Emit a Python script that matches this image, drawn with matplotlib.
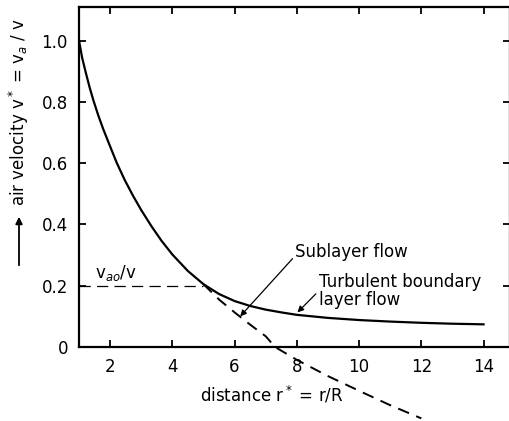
import matplotlib
matplotlib.use('Agg')
import matplotlib.pyplot as plt

# values
TURB_X = [1.0, 1.1, 1.22, 1.34, 1.46, 1.62, 1.78, 2.0, 2.21, 2.47, 2.74, 3.0, 3.33, 3.65, 4.0, 4.5, 5.0, 5.5, 6.0, 6.5, 7.0, 7.5, 8.0, 9.0, 10.0, 11.0, 12.0, 13.0, 14.0]
TURB_Y = [1.0, 0.945, 0.895, 0.848, 0.806, 0.756, 0.711, 0.655, 0.602, 0.545, 0.493, 0.447, 0.394, 0.347, 0.302, 0.248, 0.205, 0.173, 0.150, 0.134, 0.122, 0.113, 0.105, 0.095, 0.088, 0.083, 0.079, 0.076, 0.074]
SUB_X = [5.0, 5.5, 6.0, 6.5, 7.0, 7.3, 8.0, 9.0, 10.0, 11.0, 12.0]
SUB_Y = [0.205, 0.155, 0.113, 0.073, 0.035, 0.0, -0.042, -0.095, -0.143, -0.19, -0.233]
VAO_X = [1.0, 5.0]
VAO_Y = [0.2, 0.2]
X_TICKS = [2, 4, 6, 8, 10, 12, 14]
Y_TICKS = [0, 0.2, 0.4, 0.6, 0.8, 1.0]
Y_TICKLABELS = ['0', '0.2', '0.4', '0.6', '0.8', '1.0']

FS = 12


def main():
    fig = plt.figure(figsize=(5.10, 4.21), dpi=100)
    ax = fig.add_axes([79 / 510, 74 / 421, 431 / 510, 340 / 421])

    ax.plot(TURB_X, TURB_Y, color='black', lw=1.6)
    ax.plot(SUB_X, SUB_Y, color='black', lw=1.4, dashes=(6, 4), clip_on=False)
    ax.plot(VAO_X, VAO_Y, color='black', lw=0.9, dashes=(9, 5))

    ax.set_xlim(1, 14.85)
    ax.set_ylim(0, 1.11)
    ax.set_xticks(X_TICKS)
    ax.set_yticks(Y_TICKS)
    ax.set_yticklabels(Y_TICKLABELS)
    ax.tick_params(direction='in', length=5, width=1.3, top=True, right=True,
                   labelsize=FS, pad=8)
    for s in ax.spines.values():
        s.set_linewidth(1.6)

    ax.text(1.5, 0.225, 'v$_{ao}$/v', fontsize=FS)
    ax.annotate('Sublayer flow', xy=(6.18, 0.10), xytext=(7.95, 0.31),
                fontsize=FS, va='center',
                arrowprops=dict(arrowstyle='-|>', color='black', lw=0.9,
                                shrinkA=0, shrinkB=0, mutation_scale=9,
                                relpos=(0, 0.3)))
    ax.annotate('Turbulent boundary\nlayer flow', xy=(8.02, 0.113),
                xytext=(8.7, 0.183), fontsize=FS, va='center', linespacing=0.95,
                arrowprops=dict(arrowstyle='-|>', color='black', lw=0.9,
                                shrinkA=0, shrinkB=0, mutation_scale=9,
                                relpos=(-0.01, 0.45)))

    fig.text(272 / 510, 1 - 395 / 421, 'distance r$^*$ = r/R', fontsize=FS,
             ha='center', va='center')
    fig.text(19 / 510, 1 - 112 / 421, 'air velocity v$^*$ = v$_a$ / v', fontsize=FS,
             rotation=90, ha='center', va='center')
    fig.patches.append(matplotlib.patches.FancyArrowPatch(
        (19 / 510, 1 - 268 / 421), (19 / 510, 1 - 214 / 421),
        transform=fig.transFigure, arrowstyle='-|>', mutation_scale=10,
        color='black', lw=1.3))

    fig.savefig('out.png', dpi=100)


if __name__ == '__main__':
    main()
